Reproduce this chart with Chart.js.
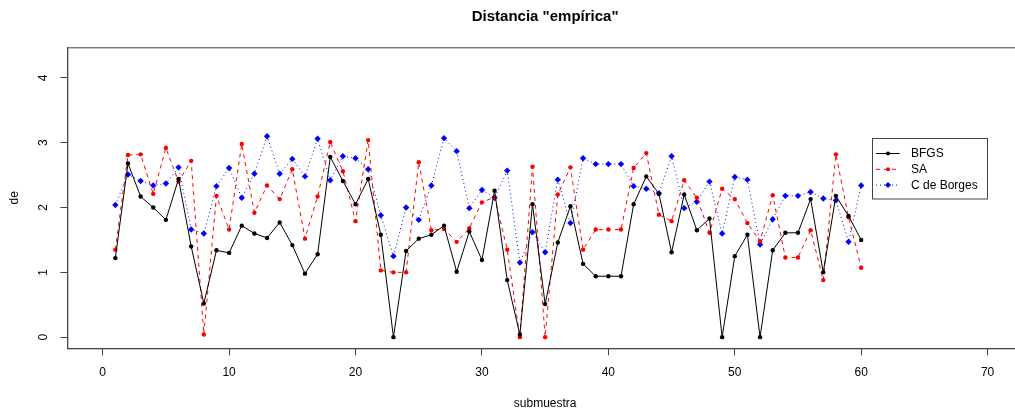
<!DOCTYPE html>
<html>
<head>
<meta charset="utf-8">
<script src="https://cdn.jsdelivr.net/npm/chart.js@4.4.1/dist/chart.umd.min.js"></script>
<style>
  html, body { margin: 0; padding: 0; background: #fff; overflow: hidden; }
  #wrap { position: relative; width: 1027px; height: 414px; }
</style>
</head>
<body>
<div id="wrap"><canvas id="deChart"></canvas></div>
<script>
    // Submuestras 1..60
    const submuestra = Array.from({ length: 60 }, (_, i) => i + 1);

    const bfgsValues = [
        1.22, 2.68, 2.17, 2.00, 1.81, 2.44, 1.40, 0.52, 1.34, 1.30,
        1.72, 1.60, 1.53, 1.77, 1.42, 0.98, 1.28, 2.78, 2.41, 2.05,
        2.44, 1.58, 0.00, 1.33, 1.52, 1.58, 1.72, 1.01, 1.63, 1.19,
        2.26, 0.88, 0.04, 2.05, 0.51, 1.46, 2.02, 1.13, 0.94, 0.94,
        0.94, 2.05, 2.48, 2.21, 1.31, 2.20, 1.65, 1.83, 0.00, 1.25,
        1.58, 0.00, 1.34, 1.61, 1.61, 2.13, 1.00, 2.18, 1.87, 1.50,
    ];

    const saValues = [
        1.35, 2.81, 2.82, 2.21, 2.92, 2.40, 2.72, 0.04, 2.18, 1.66,
        2.98, 1.92, 2.34, 2.13, 2.59, 1.52, 2.17, 3.01, 2.56, 1.79,
        3.04, 1.03, 1.00, 1.00, 2.70, 1.65, 1.67, 1.47, 1.68, 2.08,
        2.16, 1.35, 0.00, 2.63, 0.00, 2.20, 2.62, 1.35, 1.66, 1.66,
        1.66, 2.61, 2.84, 1.89, 1.79, 2.42, 2.15, 1.61, 2.29, 2.13,
        1.76, 1.48, 2.19, 1.23, 1.23, 1.65, 0.88, 2.82, 1.85, 1.07,
    ];

    const borgesValues = [
        2.04, 2.51, 2.41, 2.34, 2.37, 2.62, 1.66, 1.60, 2.33, 2.61,
        2.15, 2.52, 3.10, 2.52, 2.75, 2.48, 3.06, 2.42, 2.79, 2.76,
        2.59, 1.88, 1.25, 2.00, 1.81, 2.34, 3.07, 2.87, 1.99, 2.27,
        2.15, 2.57, 1.15, 1.62, 1.31, 2.43, 1.76, 2.76, 2.67, 2.67,
        2.67, 2.33, 2.29, 2.22, 2.79, 1.99, 2.09, 2.40, 1.60, 2.47,
        2.43, 1.43, 1.82, 2.18, 2.18, 2.24, 2.14, 2.11, 1.47, 2.34,
    ];

    const xTicks = [0, 10, 20, 30, 40, 50, 60, 70];
    const yTicks = [0, 1, 2, 3, 4];

    const FONT = "'Liberation Sans', Arial, sans-serif";

    function toPoints(values) {
        return values.map((v, i) => ({ x: submuestra[i], y: v }));
    }

    // R-style box around the plot region
    const boxPlugin = {
        id: 'plotBox',
        afterDraw(chart) {
            const { ctx, chartArea } = chart;
            ctx.save();
            ctx.strokeStyle = '#444';
            ctx.lineWidth = 1;
            ctx.strokeRect(chartArea.left + 0.5, chartArea.top + 0.5,
                chartArea.right - chartArea.left, chartArea.bottom - chartArea.top);
            ctx.restore();
        },
    };

    // Legend drawn like R's legend() box, top right inside the plot
    const rLegendPlugin = {
        id: 'rLegend',
        afterDraw(chart) {
            const { ctx } = chart;
            const box = { x: 872.5, y: 138.5, w: 115, h: 60.5 };
            ctx.save();
            ctx.fillStyle = '#fff';
            ctx.fillRect(box.x, box.y, box.w, box.h);
            ctx.strokeStyle = '#444';
            ctx.lineWidth = 1;
            ctx.strokeRect(box.x, box.y, box.w, box.h);

            ctx.font = '12px ' + FONT;
            ctx.textBaseline = 'middle';
            chart.data.datasets.forEach((ds, i) => {
                const y = 153.5 + i * 15.8;
                ctx.strokeStyle = ds.borderColor;
                ctx.setLineDash(ds.borderDash || []);
                ctx.beginPath();
                ctx.moveTo(876, y);
                ctx.lineTo(899.5, y);
                ctx.stroke();
                ctx.setLineDash([]);
                ctx.fillStyle = ds.pointBackgroundColor;
                ctx.beginPath();
                if (ds.pointStyle === 'rectRot') {
                    const r = 3;
                    ctx.moveTo(888, y - r);
                    ctx.lineTo(888 + r, y);
                    ctx.lineTo(888, y + r);
                    ctx.lineTo(888 - r, y);
                    ctx.closePath();
                } else {
                    ctx.arc(888, y, 2, 0, Math.PI * 2);
                }
                ctx.fill();
                ctx.fillStyle = '#000';
                ctx.fillText(ds.label, 911, y + 0.5);
            });
            ctx.restore();
        },
    };

    function createChart() {
        const canvas = document.getElementById('deChart');
        const ctx = canvas.getContext('2d');

        new Chart(ctx, {
            type: 'line',
            data: {
                datasets: [
                    {
                        label: 'BFGS',
                        data: toPoints(bfgsValues),
                        borderColor: '#000000',
                        pointBackgroundColor: '#000000',
                        pointBorderWidth: 0,
                        pointRadius: 2.2,
                        borderWidth: 1,
                        pointStyle: 'circle',
                        tension: 0,
                    },
                    {
                        label: 'SA',
                        data: toPoints(saValues),
                        borderColor: '#ff0000',
                        pointBackgroundColor: '#ff0000',
                        pointBorderWidth: 0,
                        pointRadius: 2.2,
                        borderWidth: 1,
                        borderDash: [4, 4],
                        pointStyle: 'circle',
                        tension: 0,
                    },
                    {
                        label: 'C de Borges',
                        data: toPoints(borgesValues),
                        borderColor: '#0000ff',
                        pointBackgroundColor: '#0000ff',
                        pointBorderWidth: 0,
                        pointRadius: 3.2,
                        borderWidth: 1,
                        borderDash: [1, 3],
                        pointStyle: 'rectRot',
                        tension: 0,
                    },
                ],
            },
            options: {
                responsive: true,
                maintainAspectRatio: false,
                animation: false,
                layout: { padding: 0 },
                plugins: {
                    legend: { display: false },
                    tooltip: { enabled: false },
                    title: {
                        display: true,
                        fullSize: false,
                        text: 'Distancia "empírica"',
                        color: '#000',
                        font: { family: FONT, size: 15, weight: 'bold', lineHeight: 1.2 },
                        padding: { top: 8, bottom: 21.3 },
                    },
                },
                scales: {
                    x: {
                        type: 'linear',
                        min: -2.8,
                        max: 72.8,
                        afterBuildTicks(scale) {
                            scale.ticks = xTicks.map((v) => ({ value: v }));
                        },
                        afterFit(scale) {
                            scale.height = 65.7;
                        },
                        grid: {
                            display: true,
                            drawOnChartArea: false,
                            drawTicks: true,
                            tickLength: 7,
                            color: '#444',
                        },
                        border: { display: true, color: '#444' },
                        ticks: {
                            color: '#000',
                            padding: 10.5,
                            maxRotation: 0,
                            font: { family: FONT, size: 12 },
                        },
                        title: {
                            display: true,
                            text: 'submuestra',
                            color: '#000',
                            font: { family: FONT, size: 12 },
                            padding: { top: 0, bottom: 3 },
                        },
                    },
                    y: {
                        type: 'linear',
                        min: -0.172,
                        max: 4.472,
                        afterBuildTicks(scale) {
                            scale.ticks = yTicks.map((v) => ({ value: v }));
                        },
                        afterFit(scale) {
                            scale.width = 67.3;
                        },
                        grid: {
                            display: true,
                            drawOnChartArea: false,
                            drawTicks: true,
                            tickLength: 7,
                            color: '#444',
                        },
                        border: { display: true, color: '#444' },
                        ticks: {
                            color: '#000',
                            padding: 13.5,
                            minRotation: 90,
                            maxRotation: 90,
                            crossAlign: 'center',
                            font: { family: FONT, size: 12 },
                        },
                        title: {
                            display: true,
                            text: 'de',
                            color: '#000',
                            font: { family: FONT, size: 12 },
                            padding: { top: 7.8, bottom: 0 },
                        },
                    },
                },
            },
            plugins: [boxPlugin, rLegendPlugin],
        });
    }

    if (document.readyState === 'loading') {
        document.addEventListener('DOMContentLoaded', createChart);
    } else {
        createChart();
    }
</script>
</body>
</html>
